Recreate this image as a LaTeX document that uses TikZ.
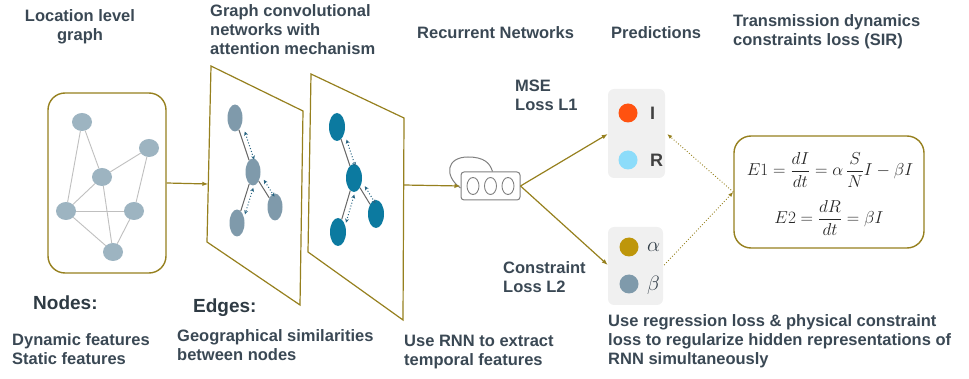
\documentclass[tikz,border=0pt]{standalone}
\usepackage{fix-cm}
\usepackage{amsmath}
\usepackage{fontspec}
\setmainfont{Liberation Sans}
\usetikzlibrary{shapes.geometric,arrows.meta,calc}
\definecolor{olv}{RGB}{150,128,30}
\definecolor{txtc}{RGB}{58,72,84}
\definecolor{gnode}{RGB}{157,180,193}
\definecolor{pnode}{RGB}{127,154,171}
\definecolor{tnode}{RGB}{12,122,160}
\definecolor{attc}{RGB}{40,100,130}
\definecolor{boxg}{RGB}{240,240,240}
\begin{document}
\begin{tikzpicture}[x=1pt,y=-1pt,
  txt/.style={font=\fontsize{16.5}{19}\selectfont\bfseries, text=txtc, inner sep=0pt, align=left, anchor=west},
  big/.style={font=\fontsize{19}{22}\selectfont\bfseries, text=txtc!80!black, inner sep=0pt, anchor=west},
  gn/.style={ellipse, fill=gnode, minimum width=20pt, minimum height=18pt, inner sep=0pt},
  pn/.style={ellipse, fill=pnode, minimum width=15pt, minimum height=27pt, inner sep=0pt},
  tn/.style={ellipse, fill=tnode, minimum width=16pt, minimum height=28pt, inner sep=0pt},
  gedge/.style={draw=black!25, line width=0.9pt},
  pedge/.style={draw=black!60, line width=1pt},
  attn/.style={draw=attc, dotted, line width=1pt, {Stealth[length=4pt,width=4pt,open]}-{Stealth[length=4pt,width=4pt,open]}},
  plane/.style={draw=olv, line width=1.2pt, fill=white},
  flow/.style={draw=olv, line width=1.2pt, -{Latex[length=6pt,width=4.5pt]}},
  dflow/.style={draw=olv, dotted, line width=0.9pt, -{Latex[length=5pt,width=4pt]}},
  pbox/.style={fill=boxg, rounded corners=6pt, inner sep=0pt},
  dot/.style={circle, inner sep=0pt, minimum size=19pt}
]
\useasboundingbox (0,0) rectangle (969,379);

% headings
\node[txt, align=center, anchor=center] (h1) at (80,27) {Location level\\graph};
\node[txt] (h2) at (210,30) {Graph convolutional\\networks with\\attention mechanism};
\node[txt] (h3) at (417,33) {Recurrent Networks};
\node[txt] (h4) at (611,33) {Predictions};
\node[txt] (h5) at (733,32) {Transmission dynamics\\constraints loss (SIR)};

% location graph
\node[draw=olv, line width=1.4pt, rounded corners=17pt, minimum width=118pt, minimum height=180pt, fill=white] (lg) at (107,183) {};
\node[gn] (g1) at (82,122) {};
\node[gn] (g2) at (149,148) {};
\node[gn] (g3) at (102,177) {};
\node[gn] (g4) at (66,211) {};
\node[gn] (g5) at (134,211) {};
\node[gn] (g6) at (113,252) {};
\draw[gedge] (g1) -- (g3);
\draw[gedge] (g1) -- (g4);
\draw[gedge] (g2) -- (g3);
\draw[gedge] (g2) -- (g5);
\draw[gedge] (g3) -- (g4);
\draw[gedge] (g3) -- (g6);
\draw[gedge] (g4) -- (g5);
\draw[gedge] (g4) -- (g6);
\draw[gedge] (g5) -- (g6);

% planes
\draw[plane] (211,66) -- (303,111) -- (300,305) -- (207,242) -- cycle;
\draw[plane] (311,74) -- (404,118) -- (403,320) -- (308,252) -- cycle;
\coordinate (p1l) at (208.3,184);
\coordinate (p2r) at (403.6,185);

% plane 1 graph
\node[pn] (t1) at (235,118) {};
\node[pn] (m1) at (253,172) {};
\node[pn] (l1) at (237,223) {};
\node[pn] (r1) at (275,207) {};
\draw[pedge] (t1) -- (m1);
\draw[pedge] (m1) -- (l1);
\draw[pedge] (m1) -- (r1);
\draw[attn] ($ ($(t1)!0.28!(m1)$)!5pt!90:(m1) $) -- ($ ($(t1)!0.8!(m1)$)!5pt!90:(m1) $);
\draw[attn] ($ ($(m1)!0.28!(l1)$)!5pt!90:(l1) $) -- ($ ($(m1)!0.8!(l1)$)!5pt!90:(l1) $);
\draw[attn] ($ ($(m1)!0.3!(r1)$)!5pt!90:(r1) $) -- ($ ($(m1)!0.78!(r1)$)!5pt!90:(r1) $);

% plane 2 graph
\node[tn] (t2) at (337,127) {};
\node[tn] (m2) at (354,178) {};
\node[tn] (l2) at (338,232) {};
\node[tn] (r2) at (376,214) {};
\draw[pedge] (t2) -- (m2);
\draw[pedge] (m2) -- (l2);
\draw[pedge] (m2) -- (r2);
\draw[attn] ($ ($(t2)!0.28!(m2)$)!5pt!90:(m2) $) -- ($ ($(t2)!0.8!(m2)$)!5pt!90:(m2) $);
\draw[attn] ($ ($(m2)!0.28!(l2)$)!5pt!90:(l2) $) -- ($ ($(m2)!0.8!(l2)$)!5pt!90:(l2) $);
\draw[attn] ($ ($(m2)!0.3!(r2)$)!5pt!90:(r2) $) -- ($ ($(m2)!0.78!(r2)$)!5pt!90:(r2) $);

% RNN block
\node[draw=black!50, line width=1pt, rounded corners=3pt, minimum width=59pt, minimum height=28pt, inner sep=0pt] (rnn) at (490.5,186) {};
\node[ellipse, draw=black!50, line width=0.9pt, minimum width=12pt, minimum height=17pt, inner sep=0pt] (c1) at (473,186) {};
\node[ellipse, draw=black!50, line width=0.9pt, minimum width=12pt, minimum height=17pt, inner sep=0pt] (c2) at (490.5,186) {};
\node[ellipse, draw=black!50, line width=0.9pt, minimum width=12pt, minimum height=17pt, inner sep=0pt] (c3) at (508,186) {};
\draw[draw=black!50, line width=1pt] ([yshift=-2pt]rnn.west) .. controls (444,176) and (446,157) .. (468,157) .. controls (484,157) and (490,163) .. ([xshift=2pt]rnn.north);

% predictions
\node[pbox, minimum width=57pt, minimum height=89pt] (pb1) at (636.5,133.5) {};
\node[pbox, minimum width=55pt, minimum height=78pt] (pb2) at (635.5,266) {};
\node[dot, fill={rgb,255:red,255;green,82;blue,16}] (dI) at (628,113) {};
\node[dot, fill={rgb,255:red,140;green,220;blue,250}] (dR) at (628,160) {};
\node[dot, fill={rgb,255:red,190;green,150;blue,10}] (da) at (629,247) {};
\node[dot, fill=pnode] (db) at (629,284) {};
\node[txt, font=\fontsize{18}{20}\selectfont\bfseries, text=black!75] (lI) at (650,113) {I};
\node[txt, font=\fontsize{18}{20}\selectfont\bfseries, text=black!75] (lR) at (650,160) {R};
\node[inner sep=0pt, anchor=west, text=txtc!85!black] (la) at (647,247) {\fontsize{20.74}{22}\selectfont$\alpha$};
\node[inner sep=0pt, anchor=west, text=txtc!85!black] (lb) at (647,285) {\fontsize{20.74}{22}\selectfont$\beta$};

% equation box
\node[draw=olv, line width=1.4pt, rounded corners=17pt, minimum width=190pt, minimum height=112pt, fill=white] (eq) at (829,192) {};
\node[inner sep=0pt, text=black!85] (e1) at (830,170) {\fontsize{17.28}{20}\selectfont$E1=\dfrac{dI}{dt}=\alpha\,\dfrac{S}{N}I-\beta I$};
\node[inner sep=0pt, text=black!85] (e2) at (829,218) {\fontsize{17.28}{20}\selectfont$E2=\dfrac{dR}{dt}=\beta I$};

% labels
\node[txt] (mse) at (515,95) {MSE\\Loss L1};
\node[txt] (cl) at (503,277) {Constraint\\Loss L2};
\node[big] (nd) at (33,303) {Nodes:};
\node[big] (ed) at (193,308) {Edges:};
\node[txt] (b1) at (12,349) {Dynamic features\\Static features};
\node[txt] (b2) at (177,345) {Geographical similarities\\between nodes};
\node[txt] (b3) at (404,352) {Use RNN to extract\\temporal features};
\node[txt] (b4) at (608,341) {Use regression loss \& physical constraint\\loss to regularize hidden representations of\\RNN simultaneously};

% flows
\draw[flow] (lg.east) -- (p1l);
\draw[flow] (p2r) -- (rnn.west);
\draw[flow] (rnn.east) -- (pb1.west |- 0,134);
\draw[flow] (rnn.east) -- (pb2.west |- 0,265);
\draw[dflow] (eq.west) -- ([xshift=2pt]pb1.east |- 0,134);
\draw[dflow] ([xshift=1pt]pb2.east |- 0,265) -- (eq.west);
\end{tikzpicture}
\end{document}
